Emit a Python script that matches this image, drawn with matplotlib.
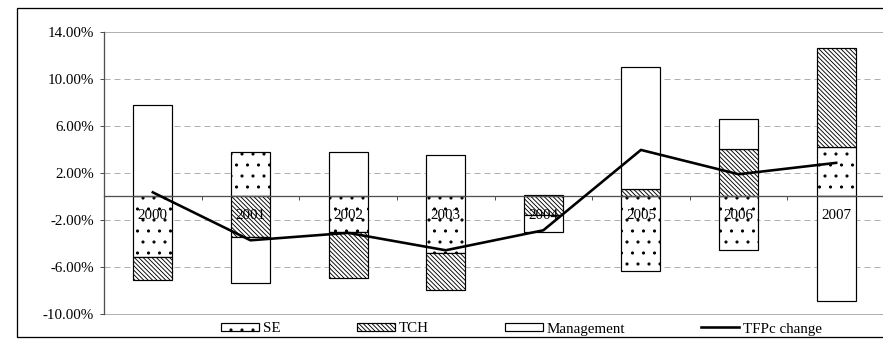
import matplotlib
matplotlib.use('Agg')
import matplotlib.pyplot as plt
import numpy as np
from matplotlib.patches import Rectangle
from matplotlib.ticker import FuncFormatter

years = ['2000', '2001', '2002', '2003', '2004', '2005', '2006', '2007']
se = [-5.17, 3.79, -3.05, -4.83, 0.10, -6.40, -4.55, 4.19]
tch = [-1.94, -3.47, -3.95, -3.19, -1.60, 0.61, 4.04, 8.39]
management = [7.76, -3.92, 3.79, 3.51, -1.45, 10.39, 2.53, -8.89]
tfpc_change = [0.32, -3.76, -3.13, -4.61, -2.91, 3.93, 1.86, 2.83]
y_ticks = [-10, -6, -2, 2, 6, 10, 14]

# low dpi so the hatch tile (dpi pixels wide) gives sparse dots
DPI = 66
W, H = 883.4, 339.4
FS = 15  # font size in pixels


def px(v):
    # pixels -> points
    return v * 72.0 / DPI


plt.rcParams['font.family'] = ['Liberation Serif', 'DejaVu Serif']
plt.rcParams['font.size'] = px(FS)
plt.rcParams['hatch.linewidth'] = px(0.9)

fig = plt.figure(figsize=(W / DPI, H / DPI), dpi=DPI)
ax = fig.add_axes([104 / W, (H - 314) / H, (885 - 104) / W, (314 - 32) / H])

x = np.arange(len(years))
pos_base = np.zeros(len(years))
neg_base = np.zeros(len(years))
handles = []
series = [(se, '.', 'SE'), (tch, '\\' * 5, 'TCH'), (management, '', 'Management')]
for values, hatch, label in series:
    v = np.array(values)
    bottom = np.where(v >= 0, pos_base, neg_base)
    bars = ax.bar(x, v, 0.4, bottom=bottom, facecolor='white', edgecolor='black',
                  linewidth=px(1.2), hatch=hatch, label=label, zorder=2)
    handles.append(bars)
    pos_base += np.where(v >= 0, v, 0)
    neg_base += np.where(v < 0, v, 0)

line, = ax.plot(x, tfpc_change, color='black', lw=px(2.6), zorder=4, label='TFPc change')
handles.append(line)

for i, yr in enumerate(years):
    ax.annotate(yr, (i, 0), xytext=(0, -px(19)), textcoords='offset points',
                ha='center', va='center', zorder=3)

ax.set_xlim(-0.5, 7.5)
ax.set_ylim(-10, 14)
ax.set_yticks(y_ticks)
ax.yaxis.set_major_formatter(FuncFormatter(lambda v, p: '%.2f%%' % v))

for t in [-6, -2, 2, 6, 10]:
    ax.axhline(t, color='#b0b0b0', lw=px(1.0), ls=(0, (6, 4)), zorder=1)
for t in [-10, 14]:
    ax.axhline(t, color='#b0b0b0', lw=px(1.0), zorder=1, clip_on=False)

axis_color = '#505050'
for side in ['top', 'right']:
    ax.spines[side].set_visible(False)
ax.spines['left'].set_color(axis_color)
ax.spines['left'].set_linewidth(px(1.3))
ax.spines['bottom'].set_position(('data', 0))
ax.spines['bottom'].set_color(axis_color)
ax.spines['bottom'].set_linewidth(px(1.3))
ax.spines['bottom'].set_zorder(3)

ax.set_xticks(np.arange(-0.5, 8, 1))
ax.set_xticklabels([])
ax.tick_params(axis='x', direction='out', length=px(4), width=px(1), color=axis_color)
ax.tick_params(axis='y', direction='out', length=px(4), width=px(1), color=axis_color,
               pad=px(6))

fig.legend(handles, [h.get_label() for h in handles], loc='center',
           bbox_to_anchor=(521.5 / W, (H - 329) / H), ncol=4,
           frameon=False, handlelength=38 / FS, handleheight=7 / FS,
           handletextpad=4 / FS, columnspacing=76 / FS, borderpad=0,
           fontsize=px(FS))

# chart frame
fig.patches.append(Rectangle((17 / W, (H - 337.5) / H), (900 - 17) / W, (337.5 - 8) / H,
                             transform=fig.transFigure, fill=False, ec='black',
                             lw=px(1.3)))

fig.savefig('out.png', dpi=DPI)
